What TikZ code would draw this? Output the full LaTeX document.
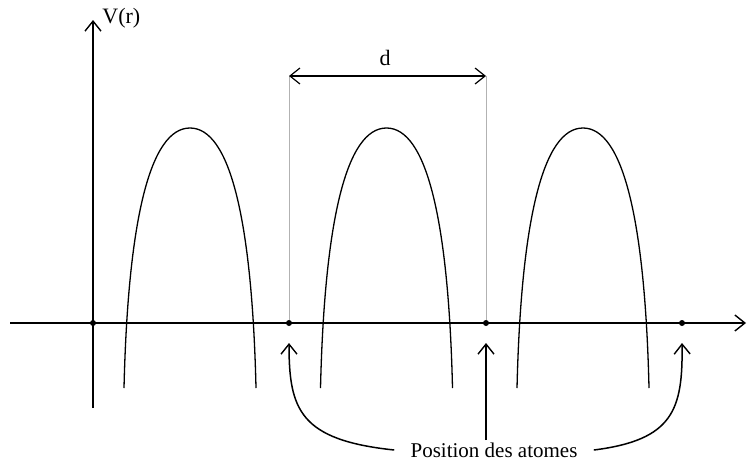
\documentclass[tikz,border=0pt]{standalone}
\usepackage{fontspec}
\setmainfont{Liberation Serif}
\usetikzlibrary{arrows.meta}
\begin{document}
\begin{tikzpicture}[x=0.5pt,y=-0.5pt,
  axis/.style={line width=0.75pt,-{Straight Barb[length=5pt,width=8pt,line width=0.7pt]}},
  arr/.style={line width=0.75pt,-{Straight Barb[length=5pt,width=8pt,line width=0.7pt]}},
  darr/.style={line width=0.6pt,{Straight Barb[length=5pt,width=8pt,line width=0.6pt]}-{Straight Barb[length=5pt,width=8pt,line width=0.6pt]}},
  guide/.style={gray!60,line width=0.35pt},
  curve/.style={line width=0.65pt},
  dot/.style={circle,fill=black,inner sep=0pt,minimum size=3pt},
  lbl/.style={inner sep=1pt,font=\fontsize{11}{13}\selectfont},
  barrier/.pic={\draw[curve] (-66,260) .. controls (-62,92) and (-40,0) .. (0,0)
       .. controls (40,0) and (62,92) .. (66,260);}]
\useasboundingbox (0,0) rectangle (747,461);
% axes
\coordinate (xs) at (10,323);
\coordinate (xe) at (746,323);
\coordinate (ys) at (93,408);
\coordinate (ye) at (93,20);
\draw[axis] (xs) -- (xe);
\draw[axis] (ys) -- (ye);
\node[lbl,anchor=west] (vr) at (100,18) {V(r)};
% barriers
\pic at (190,128) {barrier};
\pic at (386.5,128) {barrier};
\pic at (583,128) {barrier};
% atom positions
\node[dot] (a0) at (93,323) {};
\node[dot] (a1) at (289,323) {};
\node[dot] (a2) at (486,323) {};
\node[dot] (a3) at (682,323) {};
% period d
\coordinate (d1) at (289,76);
\coordinate (d2) at (486,76);
\draw[guide] (d1) -- (a1);
\draw[guide] (d2) -- (a2);
\draw[darr] (d1) -- (d2);
\node[lbl] (d) at (385,58) {d};
% label and arrows
\node[lbl,font=\fontsize{10.5}{12}\selectfont] (pos) at (494,450) {Position des atomes};
\draw[arr] ([xshift=-7pt]pos.west) .. controls (300,440) and (289,410) .. ([yshift=-10pt]a1.center);
\draw[arr] ([xshift=7pt]pos.east) .. controls (673,440) and (683,410) .. ([yshift=-10pt]a3.center);
\draw[arr] (pos.north -| a2) -- ([yshift=-10pt]a2.center);
\end{tikzpicture}
\end{document}
